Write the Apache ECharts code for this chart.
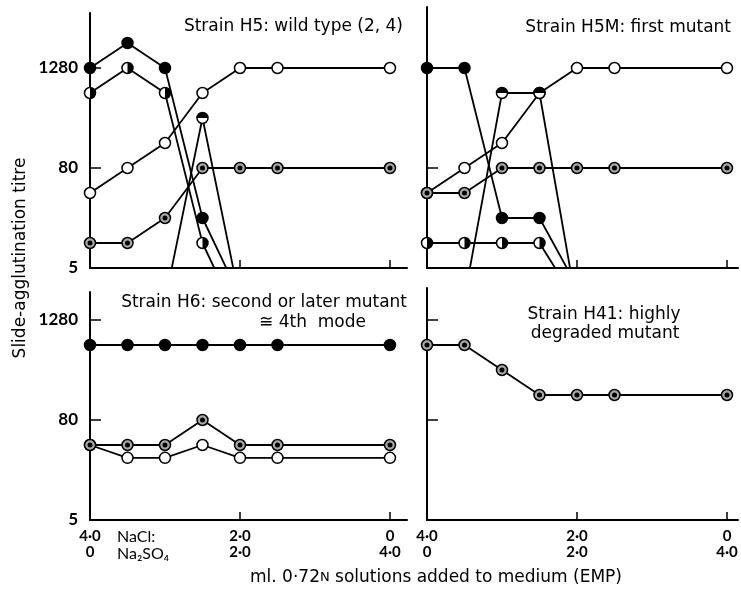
<!DOCTYPE html>
<html>
<head>
<meta charset="utf-8">
<script src="https://cdn.jsdelivr.net/npm/echarts@6/dist/echarts.min.js"></script>
<style>
  html, body { margin: 0; padding: 0; background: #ffffff; }
  #chart { width: 741px; height: 595px; }
</style>
</head>
<body>
<div id="chart"></div>
<script>
// ---- data (titres; values < 5 are plotted below the axis and clipped) ----
const nacl = [4.0, 3.5, 3.0, 2.5, 2.0, 1.5, 0];          // ml NaCl added
const xTickValues = [4, 2, 0];
const naclLabels = ['4·0', '2·0', '0'];
const na2so4Labels = ['0', '2·0', '4·0'];
const yTickTitres = [5, 80, 1280];

// Strain H5: wild type (2, 4)
const h5Filled  = [1280, 2560, 1280, 20, 2.25, null, null];
const h5Half    = [640, 1280, 640, 10, 1.1, null, null];
const h5Open    = [40, 80, 160, 640, 1280, 1280, 1280];
const h5Dot     = [10, 10, 20, 80, 80, 80, 80];
const h5Top     = [null, null, 2, 320, 2, null, null];

// Strain H5M: first mutant
const h5mFilled = [1280, 1280, 20, 20, 3, null, null];
const h5mHalf   = [10, 10, 10, 10, 1.9, null, null];
const h5mOpen   = [40, 80, 160, 640, 1280, 1280, 1280];
const h5mDot    = [40, 40, 80, 80, 80, 80, 80];
const h5mTop    = [null, 2.2, 640, 640, 1.65, null, null];

// Strain H6: second or later mutant
const h6Filled  = [640, 640, 640, 640, 640, 640, 640];
const h6Dot     = [40, 40, 40, 80, 40, 40, 40];
const h6Open    = [40, 28, 28, 40, 28, 28, 28];

// Strain H41: highly degraded mutant
const h41Dot    = [640, 640, 320, 160, 160, 160, 160];

// ---- helpers ----
function tr(v) { return v == null ? '-' : Math.log2(v / 5); }
function pts(arr) { return nacl.map((x, i) => [x, tr(arr[i])]); }
function ptsVisible(arr) { return nacl.map((x, i) => [x, (arr[i] == null || arr[i] < 5) ? '-' : tr(arr[i])]); }

const FONT = 'Lato';
const TFONT = 'DejaVu Sans';
const SZ = 11;
const LW = 1.8;

function lineSeries(idx, arr, fill, z) {
  return {
    type: 'line', xAxisIndex: idx, yAxisIndex: idx,
    data: pts(arr), clip: true, z: z || 2,
    symbol: 'circle', symbolSize: SZ, showAllSymbol: true,
    lineStyle: { color: '#000', width: LW },
    itemStyle: { color: fill, borderColor: '#000', borderWidth: 1.5 },
    emphasis: { disabled: true }, animation: false
  };
}
function overlay(idx, arr, kind, z) {
  let symbol, size, offset;
  if (kind === 'dot') { symbol = 'circle'; size = 5; offset = [0, 0]; }
  else if (kind === 'right') { symbol = 'path://M0,0 A10,10 0 0 1 0,20 Z'; size = [SZ / 2, SZ]; offset = [SZ / 4, 0]; }
  else { symbol = 'path://M0,10 A10,10 0 0 1 20,10 Z'; size = [SZ, SZ / 2]; offset = [0, -SZ / 4]; }
  return {
    type: 'scatter', xAxisIndex: idx, yAxisIndex: idx,
    data: ptsVisible(arr), clip: true, z: z || 3,
    symbol: symbol, symbolSize: size, symbolOffset: offset,
    itemStyle: { color: '#000', opacity: 1 },
    emphasis: { disabled: true }, animation: false
  };
}

const grids = [
  { left: 90,  top: 13,  width: 317, height: 255 },
  { left: 427, top: 7,   width: 311, height: 261 },
  { left: 90,  top: 292, width: 317, height: 228 },
  { left: 427, top: 288, width: 311, height: 232 }
];
const xMins = [-0.227, -0.147, -0.227, -0.147];
const yMaxs = [10.2, 10.44, 9.12, 9.28];
const showX = [false, false, true, true];
const showY = [true, false, true, false];

const xAxes = grids.map((g, i) => ({
  type: 'value', gridIndex: i, inverse: true, min: xMins[i], max: 4,
  axisLine: { show: true, onZero: false, lineStyle: { color: '#000', width: 2 } },
  axisTick: { show: true, inside: true, length: 8, customValues: [2, 0], lineStyle: { color: '#000', width: 1.5 } },
  splitLine: { show: false },
  axisLabel: {
    show: showX[i], customValues: xTickValues, margin: 8,
    fontFamily: FONT, fontSize: 15, fontWeight: 'bold', color: '#000', lineHeight: 16,
    formatter: v => { const k = xTickValues.indexOf(v); return k < 0 ? '' : naclLabels[k] + '\n' + na2so4Labels[k]; }
  }
}));
const yAxes = grids.map((g, i) => ({
  type: 'value', gridIndex: i, min: 0, max: yMaxs[i],
  axisLine: { show: true, onZero: false, lineStyle: { color: '#000', width: 2 } },
  axisTick: { show: true, inside: true, length: 11, customValues: [4, 8], lineStyle: { color: '#000', width: 1.5 } },
  splitLine: { show: false },
  axisLabel: {
    show: showY[i], customValues: yTickTitres.map(t => Math.log2(t / 5)), margin: 12,
    fontFamily: FONT, fontSize: 17, fontWeight: 'bold', color: '#000',
    formatter: v => String(Math.round(5 * Math.pow(2, v)))
  }
}));

const series = [
  // H5
  lineSeries(0, h5Open, '#fff'),
  lineSeries(0, h5Dot, '#a8a8a8'), overlay(0, h5Dot, 'dot'),
  lineSeries(0, h5Half, '#fff'), overlay(0, h5Half, 'right'),
  lineSeries(0, h5Filled, '#000'),
  lineSeries(0, h5Top, '#fff', 4), overlay(0, h5Top, 'top', 5),
  // H5M
  lineSeries(1, h5mOpen, '#fff'),
  lineSeries(1, h5mDot, '#a8a8a8'), overlay(1, h5mDot, 'dot'),
  lineSeries(1, h5mHalf, '#fff'), overlay(1, h5mHalf, 'right'),
  lineSeries(1, h5mFilled, '#000'),
  lineSeries(1, h5mTop, '#fff', 4), overlay(1, h5mTop, 'top', 5),
  // H6
  lineSeries(2, h6Open, '#fff'),
  lineSeries(2, h6Filled, '#000'),
  lineSeries(2, h6Dot, '#a8a8a8', 4), overlay(2, h6Dot, 'dot', 5),
  // H41
  lineSeries(3, h41Dot, '#a8a8a8'), overlay(3, h41Dot, 'dot')
];

const txt = (x, y, text, align, size, font) => ({
  type: 'text', x: x, y: y,
  style: { text: text, fontFamily: font || TFONT, fontSize: size || 17, fill: '#000', align: align || 'left', verticalAlign: 'middle' }
});

const graphic = [
  txt(403, 27, 'Strain H5: wild type (2, 4)', 'right'),
  txt(731, 28, 'Strain H5M: first mutant', 'right'),
  txt(407, 303, 'Strain H6: second or later mutant', 'right'),
  txt(366, 323, '≅ 4th  mode', 'right'),
  txt(604, 315, 'Strain H41: highly', 'center'),
  txt(605, 334, 'degraded mutant', 'center'),
  txt(117, 537, 'NaCl:', 'left', 16, FONT),
  txt(117, 554, 'Na₂SO₄', 'left', 16, FONT),
  {
    type: 'text', x: 436, y: 578,
    style: {
      text: '{a|ml. 0·72}{b|N}{a| solutions added to medium (EMP)}',
      align: 'center', verticalAlign: 'middle',
      rich: {
        a: { fontFamily: TFONT, fontSize: 17, fill: '#000' },
        b: { fontFamily: TFONT, fontSize: 13, fill: '#000' }
      }
    }
  },
  {
    type: 'text', x: 21, y: 258, rotation: Math.PI / 2,
    style: { text: 'Slide-agglutination titre', fontFamily: TFONT, fontSize: 17, fill: '#000', align: 'center', verticalAlign: 'middle' }
  }
];

const chart = echarts.init(document.getElementById('chart'), null, { renderer: 'canvas' });
chart.setOption({
  backgroundColor: '#fff',
  animation: false,
  grid: grids,
  xAxis: xAxes,
  yAxis: yAxes,
  series: series,
  graphic: graphic
});
</script>
</body>
</html>
